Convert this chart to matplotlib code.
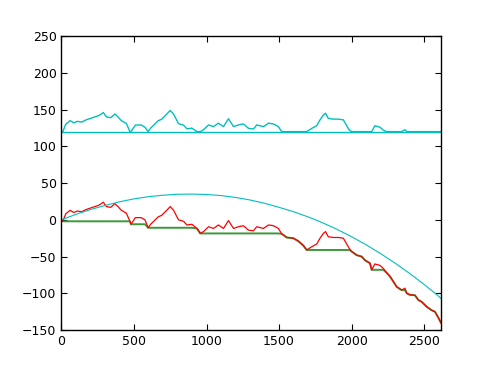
import numpy as np
import matplotlib
matplotlib.use('Agg')
import matplotlib.pyplot as plt

# red walk
walk_x = [0, 10, 30, 60, 85, 110, 140, 170, 200, 230, 260, 289, 310, 340, 369, 390,
          413, 448, 472, 480, 510, 550, 576, 598, 615, 633, 667, 690, 716, 750, 773,
          807, 842, 865, 899, 934, 957, 979, 1014, 1048, 1082, 1117, 1151, 1186, 1220,
          1254, 1289, 1323, 1346, 1392, 1427, 1461, 1495, 1518, 1553, 1598, 1633, 1667,
          1690, 1725, 1759, 1782, 1805, 1820, 1839, 1874, 1908, 1943, 1966, 1984, 2000,
          2034, 2069, 2092, 2126, 2138, 2160, 2195, 2218, 2241, 2264, 2287, 2310, 2344,
          2367, 2380, 2401, 2436, 2459, 2482, 2516, 2551, 2574, 2597, 2615]
walk_y = [0, -2, 8, 13, 10, 12, 11, 14, 16, 18, 20, 24, 18, 17, 22, 18,
          13, 9, -2, -6, 3, 3, 0, -10.8, -6, -2.6, 4, 6, 11, 18, 13,
          0, -2, -7, -6, -11.7, -18.5, -16, -9.4, -11.7, -7, -11.7, -1, -11.7, -9.4,
          -8, -14, -15, -9.4, -11.7, -7, -8, -11.7, -19, -24, -25, -29, -35,
          -41, -36.6, -33, -25, -18.5, -16, -23, -24, -24, -25, -33, -39, -43,
          -48, -50, -55, -59, -68, -60, -62, -66, -72, -77, -84, -91, -95.6,
          -93, -100, -102, -102.6, -109, -111.5, -118, -123, -125, -133, -140]

# smooth cyan curve
curve_x = [0, 100, 200, 300, 400, 500, 600, 700, 800, 900, 1000, 1100, 1200, 1300,
           1400, 1500, 1600, 1700, 1800, 1900, 2000, 2100, 2200, 2300, 2400, 2500,
           2600, 2615]
curve_y = [0, 7.5, 14, 19.5, 24.5, 28.5, 31.5, 33.5, 34.8, 35, 34.5, 33, 30.5, 27,
           22.5, 17, 11, 4, -4, -13, -23, -34, -46, -59, -73, -88, -104, -107]

baseline = 120

walk_x = np.array(walk_x)
walk_y = np.array(walk_y)
running_min = np.minimum.accumulate(walk_y)
drawdown = baseline + (walk_y - running_min)

fig = plt.figure(figsize=(4.91, 3.68), dpi=100)
ax = fig.add_axes([0.125, 0.103, 0.773, 0.799])

# green under the red so the walk stays visible on the way down
ax.plot(walk_x, running_min, color='#3a9a3a', lw=1.4)
ax.plot(walk_x, walk_y, 'r', lw=0.9)
ax.plot(walk_x, drawdown, 'c', lw=1)
ax.plot([walk_x[0], walk_x[-1]], [baseline, baseline], 'c', lw=1)
ax.plot(curve_x, curve_y, 'c', lw=0.8)

ax.set_xlim(0, 2615)
ax.set_ylim(-150, 250)
ax.set_xticks([0, 500, 1000, 1500, 2000, 2500])
ax.set_yticks(np.arange(-150, 251, 50))
ax.tick_params(direction='in', top=True, right=True, labelsize=9, length=4)
for s in ax.spines.values():
    s.set_linewidth(1)

fig.savefig('out.png', dpi=100)
